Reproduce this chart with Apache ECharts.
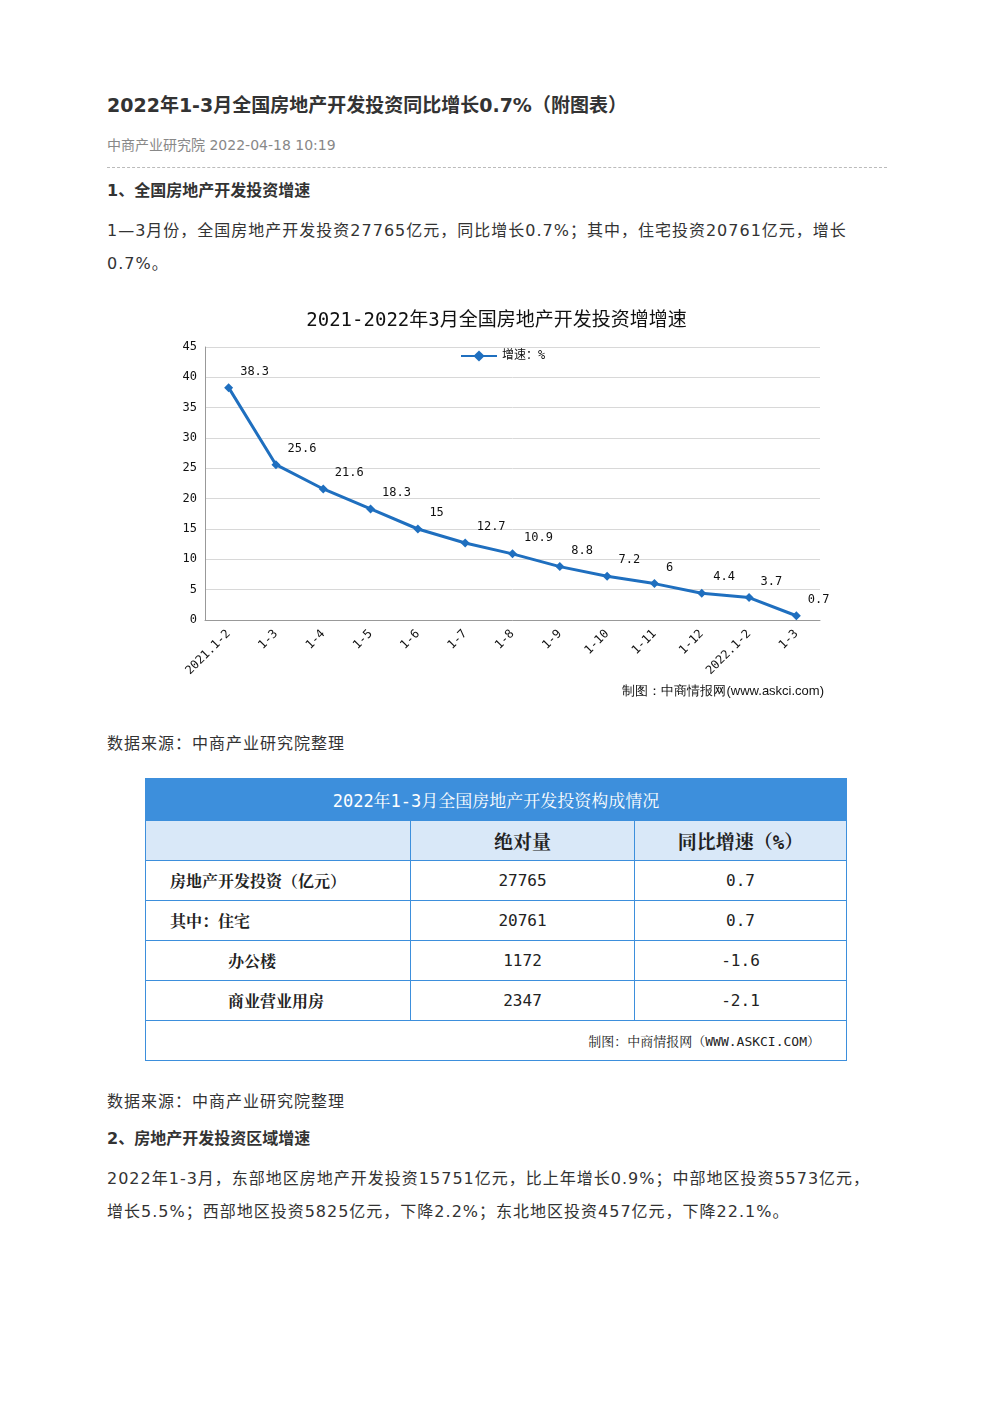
<!DOCTYPE html>
<html><head><meta charset="utf-8">
<script src="https://cdn.jsdelivr.net/npm/echarts@6/dist/echarts.min.js"></script>
<style>
body{margin:0;background:#fff;font-family:"DejaVu Sans","Noto Sans CJK SC",sans-serif;color:#333;}
.wrap{position:relative;width:992px;height:1403px;}
.a{position:absolute;left:107px;width:780px;}
h1{position:absolute;left:107px;top:90px;margin:0;font-size:19px;font-weight:bold;color:#333;line-height:30px;}
.meta{top:134px;font-size:14px;color:#888;line-height:22px;}
.hr{top:167px;border-top:1px dashed #bbb;height:0;}
.h2{font-size:16px;font-weight:bold;line-height:26px;}
.p{font-size:16px;line-height:33px;letter-spacing:1px;}
#chart{position:absolute;left:145px;top:295px;width:703px;height:413px;}
table{position:absolute;left:145px;top:778px;width:702px;border-collapse:collapse;font-family:"DejaVu Sans Mono","Noto Serif CJK SC","Noto Sans CJK SC",serif;}
td{border:1.5px solid #3d8fdc;height:39px;font-size:16px;padding:0;color:#222;}
.th1 td{background:#3d8fdc;color:#fff;text-align:center;height:41px;font-size:17px;}
.th2 td{background:#d9e8f8;text-align:center;font-size:19px;font-weight:bold;}
.c{text-align:center;}
</style></head><body><div class="wrap">
<h1>2022年1-3月全国房地产开发投资同比增长0.7%（附图表）</h1>
<div class="a meta">中商产业研究院 2022-04-18 10:19</div>
<div class="a hr"></div>
<div class="a h2" style="top:178px">1、全国房地产开发投资增速</div>
<div class="a p" style="top:214px">1—3月份，全国房地产开发投资27765亿元，同比增长0.7%；其中，住宅投资20761亿元，增长0.7%。</div>
<div id="chart"></div>
<div class="a p" style="top:727px">数据来源：中商产业研究院整理</div>
<table>
<tr class="th1"><td colspan="3">2022年1-3月全国房地产开发投资构成情况</td></tr>
<tr class="th2"><td style="width:264px"></td><td style="width:223px">绝对量</td><td>同比增速（%）</td></tr>
<tr><td style="padding-left:24px;font-weight:bold">房地产开发投资（亿元）</td><td class="c">27765</td><td class="c">0.7</td></tr>
<tr><td style="padding-left:24px;font-weight:bold">其中：住宅</td><td class="c">20761</td><td class="c">0.7</td></tr>
<tr><td style="padding-left:82px;font-weight:bold">办公楼</td><td class="c">1172</td><td class="c">-1.6</td></tr>
<tr><td style="padding-left:82px;font-weight:bold">商业营业用房</td><td class="c">2347</td><td class="c">-2.1</td></tr>
<tr><td colspan="3" style="text-align:right;padding-right:26px;font-size:13px">制图：中商情报网（WWW.ASKCI.COM）</td></tr>
</table>
<div class="a p" style="top:1085px">数据来源：中商产业研究院整理</div>
<div class="a h2" style="top:1126px">2、房地产开发投资区域增速</div>
<div class="a p" style="top:1162px">2022年1-3月，东部地区房地产开发投资15751亿元，比上年增长0.9%；中部地区投资5573亿元，增长5.5%；西部地区投资5825亿元，下降2.2%；东北地区投资457亿元，下降22.1%。</div>
</div>
<script>
const categories=["2021.1-2","1-3","1-4","1-5","1-6","1-7","1-8","1-9","1-10","1-11","1-12","2022.1-2","1-3"];
const growth=[38.3,25.6,21.6,18.3,15,12.7,10.9,8.8,7.2,6,4.4,3.7,0.7];
const mono='"DejaVu Sans Mono","Noto Sans CJK SC",monospace';
const c=echarts.init(document.getElementById('chart'));
c.setOption({
 animation:false,
 title:{text:'2021-2022年3月全国房地产开发投资增增速',left:'center',top:12,textStyle:{fontSize:19,fontWeight:'normal',color:'#111',fontFamily:mono}},
 legend:{data:['增速：%'],top:50,left:310,itemWidth:36,textStyle:{fontSize:12,color:'#111',fontFamily:mono}},
 graphic:[{type:'text',right:24,bottom:10,style:{text:'制图：中商情报网(www.askci.com)',fontSize:13,fill:'#111'}}],
 grid:{left:60,right:28,top:52,bottom:88},
 xAxis:{type:'category',data:categories,boundaryGap:['4%','4%'],axisLine:{lineStyle:{color:'#999'}},axisTick:{show:false},
  axisLabel:{rotate:45,fontSize:12,color:'#111',interval:0,margin:12,fontFamily:mono}},
 yAxis:{type:'value',min:0,max:45,interval:5,axisLine:{show:true,lineStyle:{color:'#999'}},axisLabel:{fontSize:12,color:'#111',fontFamily:mono},splitLine:{lineStyle:{color:'#d8d8d8'}}},
 series:[{name:'增速：%',type:'line',data:growth,color:'#1f6fbf',symbol:'diamond',symbolSize:9,lineStyle:{width:3},
  label:{show:true,position:'right',offset:[2,-16],fontSize:12,color:'#111',fontFamily:mono}}]
});
</script></body></html>
